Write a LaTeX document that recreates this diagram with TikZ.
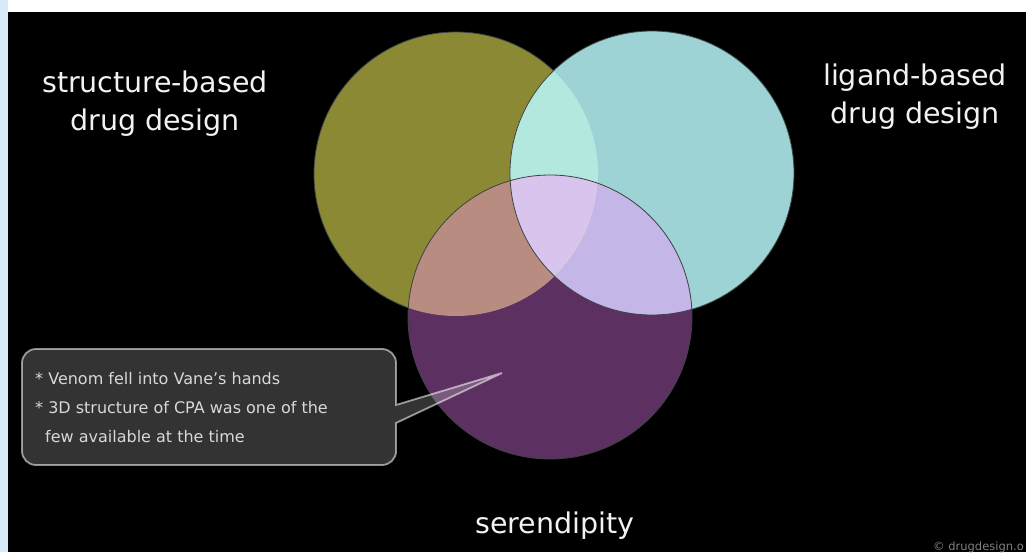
\documentclass[tikz,border=0pt]{standalone}
\usepackage{fontspec}
\setmainfont{DejaVu Sans}

\definecolor{frameblue}{HTML}{D6EAF8}
\definecolor{sbddolive}{HTML}{8C8934}
\definecolor{lbddcyan}{HTML}{9ED3D5}
\definecolor{serenpurple}{HTML}{5C3060}
\definecolor{sbddlbdd}{HTML}{B2E8DE}
\definecolor{sbddseren}{HTML}{B88C80}
\definecolor{lbddseren}{HTML}{C4B6E6}
\definecolor{allthree}{HTML}{D8C4EC}
\definecolor{vennedge}{HTML}{3C4444}
\definecolor{labelwhite}{HTML}{F2F2F2}
\definecolor{notegrey}{HTML}{D8D8D8}

\tikzset{
  vennline/.style={draw=vennedge, line width=0.8pt},
  biglabel/.style={text=labelwhite, font=\fontsize{28.5}{38}\selectfont, align=center, inner sep=0pt},
  notebox/.style={fill=white, fill opacity=0.2, draw=white, draw opacity=0.55, line width=1.8pt},
  notetext/.style={text=notegrey, font=\fontsize{16}{29}\selectfont, align=left, inner sep=0pt},
}

\begin{document}
\begin{tikzpicture}[x=1pt, y=-1pt]
  \useasboundingbox (0,0) rectangle (1026,552);
  \clip (0,0) rectangle (1026,552);
  % page edge and slide
  \fill[white] (0,0) rectangle (1026,12);
  \fill[frameblue] (0,0) rectangle (8,552);
  \fill[black] (8,12) rectangle (1026,552);

  % the three sets
  \coordinate (sbdd) at (456,174);
  \coordinate (lbdd) at (652,173);
  \coordinate (seren) at (550,317);

  \fill[sbddolive, vennline] (sbdd) circle[radius=142pt];
  \fill[lbddcyan] (lbdd) circle[radius=142pt];
  \fill[serenpurple] (seren) circle[radius=142pt];
  \begin{scope}
    \clip (lbdd) circle[radius=142pt];
    \fill[lbddseren] (seren) circle[radius=142pt];
  \end{scope}
  \begin{scope}
    \clip (sbdd) circle[radius=142pt];
    \fill[sbddlbdd] (lbdd) circle[radius=142pt];
    \fill[sbddseren] (seren) circle[radius=142pt];
    \clip (lbdd) circle[radius=142pt];
    \fill[allthree] (seren) circle[radius=142pt];
  \end{scope}
  \draw[vennline] (lbdd) circle[radius=142pt];
  \draw[vennline] (seren) circle[radius=142pt];

  % labels
  \node[biglabel] (sbddlabel) at (155,104) {structure-based\\drug design};
  \node[biglabel] (lbddlabel) at (915,97) {ligand-based\\drug design};
  \node[biglabel, anchor=base] (serenlabel) at (555,533) {serendipity};

  % callout
  \coordinate (tip) at (502,373);
  \path[notebox] (tip) -- (396,405) -- (396,390) [rounded corners=14pt] -- (396,349)
    -- (22,349) -- (22,465) -- (396,465) -- (396,440) [sharp corners] -- (396,423) -- cycle;
  \node[notetext, anchor=north west] (note) at (35,372)
    {* Venom fell into Vane's hands\\* 3D structure of CPA was one of the\\\hspace{10pt}few available at the time};

  \node[text=gray, font=\fontsize{11.5}{13}\selectfont, anchor=base east, inner sep=0pt] (credit)
    at (1024,550) {© drugdesign.o};
\end{tikzpicture}
\end{document}
